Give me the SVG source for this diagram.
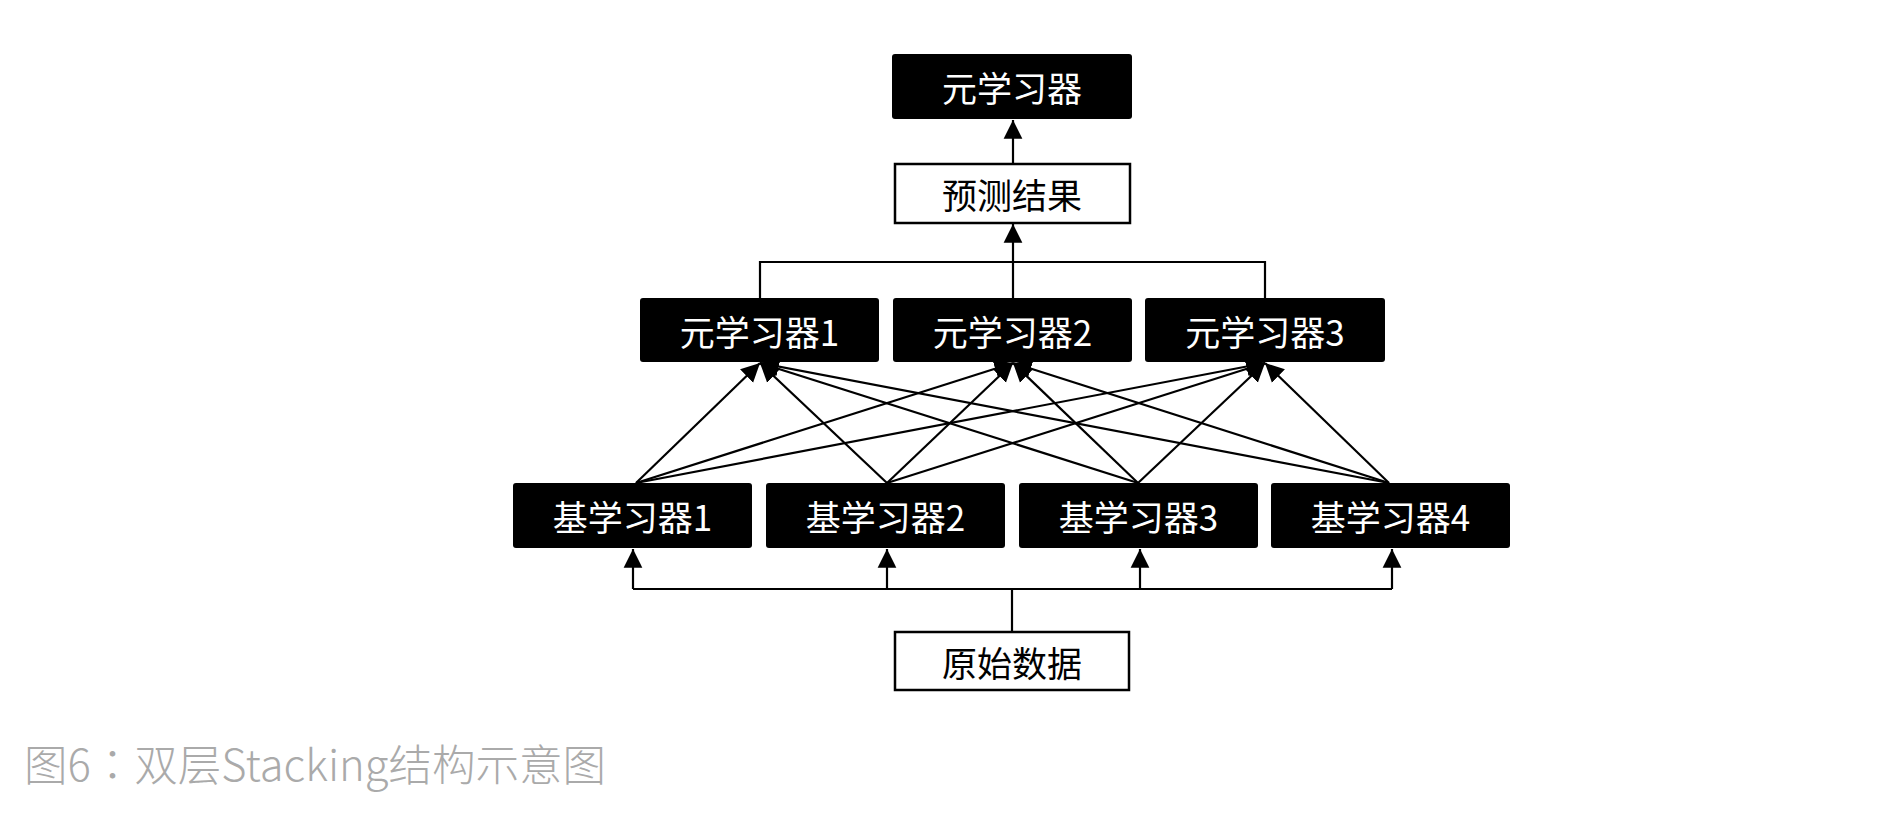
<svg xmlns="http://www.w3.org/2000/svg" width="1902" height="838" viewBox="0 0 1902 838">
<style>
.dark{fill:#000;stroke:none}
.light{fill:#fff;stroke:#000;stroke-width:2.5}
.tw{fill:#fff;font-family:"Noto Sans CJK SC","Microsoft YaHei",sans-serif;font-size:35px;text-anchor:middle;dominant-baseline:central}
.tb{fill:#000;font-family:"Noto Sans CJK SC","Microsoft YaHei",sans-serif;font-size:35px;text-anchor:middle;dominant-baseline:central}
.ln{fill:none;stroke:#000;stroke-width:2.2}
.ar{fill:none;stroke:#000;stroke-width:2.2;marker-end:url(#ah)}
.cap{fill:#aaaaaa;font-family:"Noto Sans CJK TC","Noto Sans CJK SC",sans-serif;font-size:43.5px;font-weight:300}
</style>
<defs>
<marker id="ah" viewBox="0 0 10 10" refX="10" refY="5" markerWidth="8.5" markerHeight="9.5" markerUnits="strokeWidth" orient="auto">
<path d="M0,0 L10,5 L0,10 z" fill="#000"/>
</marker>
</defs>
<rect width="1902" height="838" fill="#fff"/>
<g id="connectors">
<path class="ar" d="M1013,163 V120"/>
<path class="ln" d="M760,298 V262 H1265 V298"/>
<path class="ar" d="M1013,298 V224"/>
<path class="ar" d="M636,483 L760,363"/>
<path class="ar" d="M636,483 L1013,363"/>
<path class="ar" d="M636,483 L1265,363"/>
<path class="ar" d="M887,483 L760,363"/>
<path class="ar" d="M887,483 L1013,363"/>
<path class="ar" d="M887,483 L1265,363"/>
<path class="ar" d="M1138,483 L760,363"/>
<path class="ar" d="M1138,483 L1013,363"/>
<path class="ar" d="M1138,483 L1265,363"/>
<path class="ar" d="M1389,483 L760,363"/>
<path class="ar" d="M1389,483 L1013,363"/>
<path class="ar" d="M1389,483 L1265,363"/>
<path class="ln" d="M1012,631 V589"/>
<path class="ln" d="M633,589 H1392"/>
<path class="ar" d="M633,589 V549"/>
<path class="ar" d="M887,589 V549"/>
<path class="ar" d="M1140,589 V549"/>
<path class="ar" d="M1392,589 V549"/>
</g>
<g id="meta-top"><rect class="dark" x="892" y="54" width="240" height="65" rx="3"/><text class="tw" x="1012" y="86.5">元学习器</text></g>
<g id="pred"><rect class="light" x="895" y="164" width="235" height="59"/><text class="tb" x="1012" y="193.5">预测结果</text></g>
<g id="meta1"><rect class="dark" x="640" y="298" width="239" height="64" rx="3"/><text class="tw" x="759.5" y="330">元学习器1</text></g>
<g id="meta2"><rect class="dark" x="893" y="298" width="239" height="64" rx="3"/><text class="tw" x="1012.5" y="330">元学习器2</text></g>
<g id="meta3"><rect class="dark" x="1145" y="298" width="240" height="64" rx="3"/><text class="tw" x="1265" y="330">元学习器3</text></g>
<g id="base1"><rect class="dark" x="513" y="483" width="239" height="65" rx="3"/><text class="tw" x="632.5" y="515.5">基学习器1</text></g>
<g id="base2"><rect class="dark" x="766" y="483" width="239" height="65" rx="3"/><text class="tw" x="885.5" y="515.5">基学习器2</text></g>
<g id="base3"><rect class="dark" x="1019" y="483" width="239" height="65" rx="3"/><text class="tw" x="1138.5" y="515.5">基学习器3</text></g>
<g id="base4"><rect class="dark" x="1271" y="483" width="239" height="65" rx="3"/><text class="tw" x="1390.5" y="515.5">基学习器4</text></g>
<g id="raw"><rect class="light" x="895" y="632" width="234" height="58"/><text class="tb" x="1012" y="661">原始数据</text></g>
<text class="cap" x="24" y="781">图6：双层Stacking结构示意图</text>
</svg>
